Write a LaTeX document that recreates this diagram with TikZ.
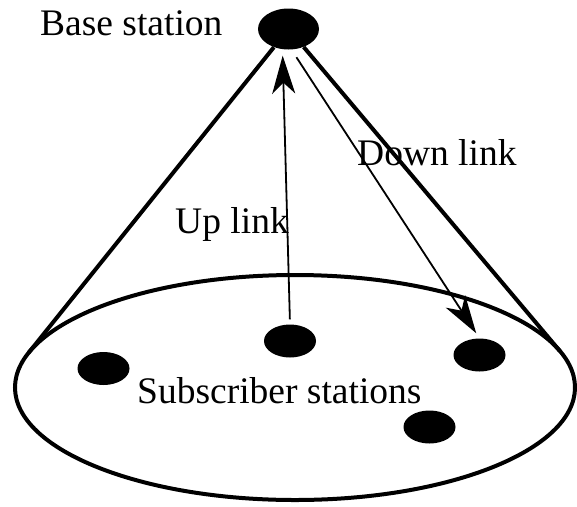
\documentclass[tikz,border=0pt]{standalone}
\usepackage{fontspec}
\setmainfont{Liberation Serif}
\usetikzlibrary{shapes.geometric,arrows.meta}
\begin{document}
\begin{tikzpicture}[x=1pt,y=-1pt,
  station/.style={ellipse, fill=black, draw=none, minimum width=52pt, minimum height=33pt, inner sep=0pt},
  basest/.style={ellipse, fill=black, draw=none, minimum width=61pt, minimum height=41pt, inner sep=0pt},
  cell/.style={ellipse, draw=black, line width=4pt, minimum width=560pt, minimum height=225pt, inner sep=0pt},
  cone/.style={line width=4pt},
  link/.style={line width=1.8pt, -{Stealth[length=38pt,width=23pt,inset=11pt]}},
  lbl/.style={anchor=base west, inner sep=0pt, font=\fontsize{37.5}{40}\selectfont}]
\useasboundingbox (0,0) rectangle (577,506);
\node[cell] (cell) at (295,387.5) {};
\node[basest] (bs) at (288.5,29) {};
\coordinate (tl) at (28.6,352.8);
\coordinate (tr) at (560,351.2);
\draw[cone] (bs) -- (tl);
\draw[cone] (bs) -- (tr);
\node[station] (ss1) at (290,341) {};
\node[station] (ss2) at (103.5,368.5) {};
\node[station] (ss3) at (479.5,355) {};
\node[station] (ss4) at (429.5,427) {};
\draw[link, shorten <=5pt, shorten >=6pt] (ss1.north) -- ([xshift=-6pt]bs.south);
\draw[link, shorten <=9pt, shorten >=6pt] ([xshift=3pt]bs.south) -- (ss3.north);
\node[lbl] (lbase) at (40,35) {Base station};
\node[lbl] (ldown) at (357,165) {Down link};
\node[lbl] (lup) at (175,233) {Up link};
\node[lbl] (lsub) at (137,403) {Subscriber stations};
\end{tikzpicture}
\end{document}
